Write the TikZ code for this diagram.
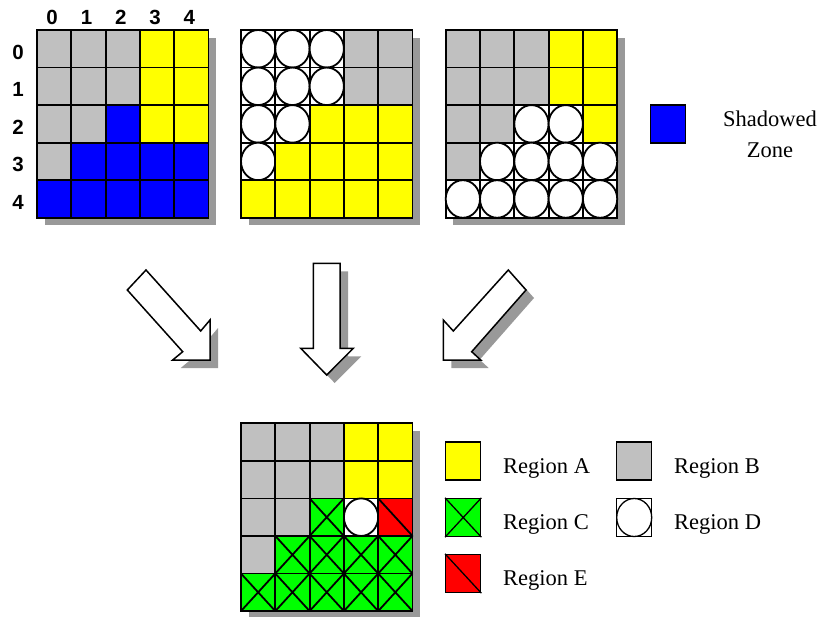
\documentclass[tikz,border=0pt]{standalone}
\usepackage{fontspec}
\setmainfont{Liberation Serif}
\newfontfamily\axisfont{Liberation Sans}
\usepackage{tikz}
\usetikzlibrary{calc}
\definecolor{regA}{RGB}{255,255,0}
\definecolor{regB}{RGB}{192,192,192}
\definecolor{regC}{RGB}{0,255,0}
\definecolor{regE}{RGB}{255,0,0}
\definecolor{shadowzone}{RGB}{0,0,255}
\definecolor{dropgray}{RGB}{153,153,153}
\newcommand{\cellw}{34.3}
\newcommand{\cellht}{37.55}
% one cell of a grid: column, row, fill
\newcommand{\gcellbox}[3]{\filldraw[cellline, fill=#3] ({#1*\cellw},{#2*\cellht}) rectangle ({(#1+1)*\cellw},{(#2+1)*\cellht});}
\newcommand{\gcellA}[2]{\gcellbox{#1}{#2}{regA}}
\newcommand{\gcellB}[2]{\gcellbox{#1}{#2}{regB}}
\newcommand{\gcellS}[2]{\gcellbox{#1}{#2}{shadowzone}}
\newcommand{\gcellC}[2]{\gcellbox{#1}{#2}{regC}
  \draw[cellline] ({#1*\cellw},{#2*\cellht}) -- ({(#1+1)*\cellw},{(#2+1)*\cellht})
                  ({(#1+1)*\cellw},{#2*\cellht}) -- ({#1*\cellw},{(#2+1)*\cellht});}
\newcommand{\gcellE}[2]{\gcellbox{#1}{#2}{regE}
  \draw[cellline] ({#1*\cellw},{#2*\cellht}) -- ({(#1+1)*\cellw},{(#2+1)*\cellht});}
\newcommand{\gcellD}[2]{\gcellbox{#1}{#2}{white}
  \draw[cellline, fill=white] ({(#1+0.5)*\cellw},{(#2+0.5)*\cellht}) ellipse [x radius=17.15pt, y radius=18.78pt];}
\newcommand{\gridcell}[3]{\csname gcell#3\endcsname{#1}{#2}}

\begin{document}
\begin{tikzpicture}[x=1pt, y=-1pt,
    cellline/.style={draw=black, line width=1.8pt},
    dropshadow/.style={fill=dropgray},
    arrowbody/.style={fill=white, draw=black, line width=1.5pt, line join=miter},
    axislabel/.style={font=\axisfont\bfseries\fontsize{20.5}{24}\selectfont, inner sep=0pt},
    keybox/.style={draw=black, line width=1.3pt, minimum width=35pt, minimum height=38pt, inner sep=0pt},
    keyline/.style={draw=black, line width=1.3pt},
    keytext/.style={font=\fontsize{22.5}{31}\selectfont, inner sep=0pt, anchor=base west}]
  \useasboundingbox (0,0) rectangle (821,616);

  % Draw the shadowed-zone grid
  \begin{scope}[shift={(37,30)}]
    \fill[dropshadow] (7.5,7.5) rectangle ({5*\cellw+7.5},{5*\cellht+7.5});
    \foreach \row [count=\rw from 0] in {{B,B,B,A,A},{B,B,B,A,A},{B,B,S,A,A},{B,S,S,S,S},{S,S,S,S,S}}
      \foreach \t [count=\cl from 0] in \row {\gridcell{\cl}{\rw}{\t}};
    % indices
    \foreach \n in {0,...,4} {
      \node[axislabel] (col\n) at ({(\n+0.5)*\cellw-2},-12.5) {\n};
      \node[axislabel] (row\n) at (-19,{(\n+0.5)*\cellht+3.5}) {\n};
    }
  \end{scope}

  % Draw the second grid
  \begin{scope}[shift={(241,30)}]
    \fill[dropshadow] (7.5,7.5) rectangle ({5*\cellw+7.5},{5*\cellht+7.5});
    \foreach \row [count=\rw from 0] in {{D,D,D,B,B},{D,D,D,B,B},{D,D,A,A,A},{D,A,A,A,A},{A,A,A,A,A}}
      \foreach \t [count=\cl from 0] in \row {\gridcell{\cl}{\rw}{\t}};
  \end{scope}

  % Draw the third grid
  \begin{scope}[shift={(445.7,30)}]
    \fill[dropshadow] (7.5,7.5) rectangle ({5*\cellw+7.5},{5*\cellht+7.5});
    \foreach \row [count=\rw from 0] in {{B,B,B,A,A},{B,B,B,A,A},{B,B,D,D,A},{B,D,D,D,D},{D,D,D,D,D}}
      \foreach \t [count=\cl from 0] in \row {\gridcell{\cl}{\rw}{\t}};
  \end{scope}

  % shadowed zone key
  \node[keybox, fill=shadowzone] (keyS) at (668.2,124) {};
  \node[font=\fontsize{22.5}{31}\selectfont, align=center, inner sep=0pt] (txtS) at (770,134) {Shadowed\\Zone};

  % arrows
  \foreach \dx/\col/\ln in {8/dropgray/none, 0/white/black} {
    \filldraw[arrowbody, fill=\col, draw=\ln, shift={(\dx,\dx)}]
      (146,270) -- (127.3,290) -- (182.7,351.7) -- (172.7,360) -- (210,360) -- (210,320) -- (200.7,331) -- cycle;
    \filldraw[arrowbody, fill=\col, draw=\ln, shift={(\dx,\dx)}]
      (313.3,263.3) -- (340,263.3) -- (340,348.3) -- (353.3,348.3) -- (326.7,375) -- (300.7,348.3) -- (313.3,348.3) -- cycle;
    \filldraw[arrowbody, fill=\col, draw=\ln, shift={(\dx,\dx)}]
      (508.3,270) -- (526,290) -- (471.7,351.7) -- (480.7,360) -- (443.3,360) -- (443.3,320) -- (453.3,331) -- cycle;
  }

  % Draw the result grid
  \begin{scope}[shift={(241,423.3)}]
    \fill[dropshadow] (7.5,7.5) rectangle ({5*\cellw+7.5},{5*\cellht+7.5});
    \foreach \row [count=\rw from 0] in {{B,B,B,A,A},{B,B,B,A,A},{B,B,C,D,E},{B,C,C,C,C},{C,C,C,C,C}}
      \foreach \t [count=\cl from 0] in \row {\gridcell{\cl}{\rw}{\t}};
  \end{scope}

  % legend
  \node[keybox, fill=regA] (keyA) at (463.2,461) {};
  \node[keybox, fill=regB] (keyB) at (634.2,461) {};
  \node[keybox, fill=regC] (keyC) at (463.2,517.5) {};
  \node[keybox, fill=white] (keyD) at (634.2,517.5) {};
  \node[keybox, fill=regE] (keyE) at (463.2,573.5) {};
  \draw[keyline] (keyC.north west) -- (keyC.south east) (keyC.north east) -- (keyC.south west);
  \draw[keyline] (keyD.center) ellipse [x radius=17.5pt, y radius=19pt];
  \draw[keyline] (keyE.north west) -- (keyE.south east);
  \node[keytext] (txtA) at (503,473.3) {Region A};
  \node[keytext] (txtB) at (674,473.3) {Region B};
  \node[keytext] (txtC) at (503,529.3) {Region C};
  \node[keytext] (txtD) at (674,529.3) {Region D};
  \node[keytext] (txtE) at (503,585.7) {Region E};
\end{tikzpicture}
\end{document}
